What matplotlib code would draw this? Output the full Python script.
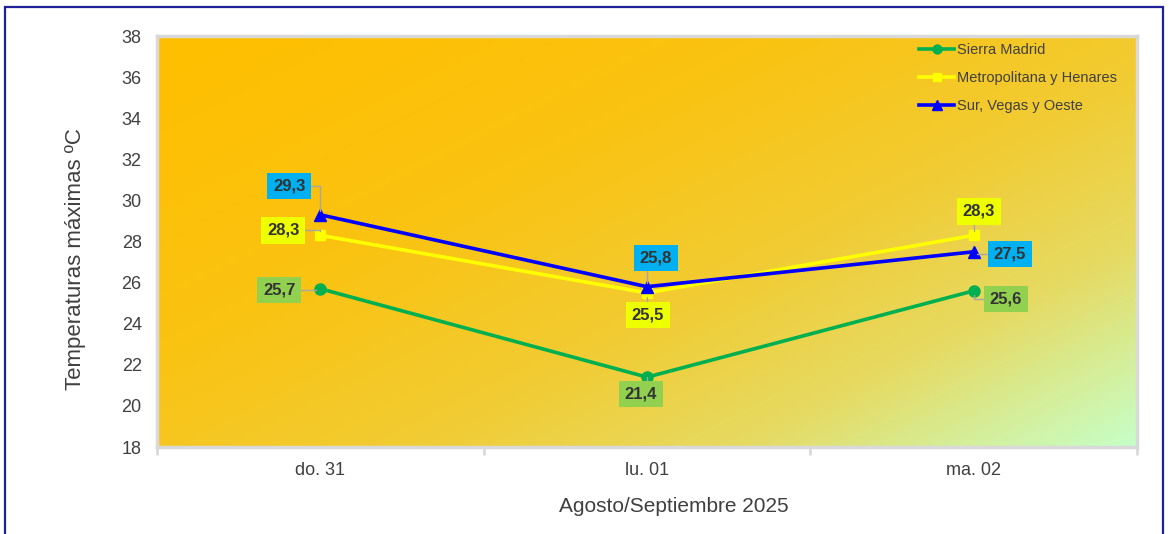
import numpy as np
import matplotlib.pyplot as plt
from matplotlib.colors import LinearSegmentedColormap
from matplotlib.patches import Rectangle

# Datos: temperaturas máximas por zona
dias = ["do. 31", "lu. 01", "ma. 02"]
sierra = [25.7, 21.4, 25.6]
metropolitana = [28.3, 25.5, 28.3]
sur = [29.3, 25.8, 27.5]

plt.rcParams["font.family"] = ["Liberation Sans", "DejaVu Sans"]
texto = "#404040"

fig = plt.figure(figsize=(11.69, 5.34), dpi=100)
ax = fig.add_axes([157 / 1169, 1 - 447 / 534, 980 / 1169, 411 / 534])

# Fondo degradado naranja -> verde claro en diagonal
cmap = LinearSegmentedColormap.from_list(
    "fondo", [(0.0, "#FFBF00"), (0.3, "#FAC312"), (0.55, "#F1CC34"),
              (0.75, "#E6DA62"), (1.0, "#C6FFC8")])
u, v = np.meshgrid(np.linspace(0, 1, 400), np.linspace(0, 1, 200))
t = np.clip((u * 0.55 + v * 0.45) ** 1.15, 0, 1)
ax.imshow(t, cmap=cmap, extent=[-0.5, 2.5, 18, 38], origin="upper",
          aspect="auto", zorder=0, vmin=0, vmax=1)

x = np.arange(len(dias))
ax.plot(x, sierra, color="#00B050", lw=2.6, marker="o", ms=8,
        label="Sierra Madrid", zorder=3)
ax.plot(x, metropolitana, color="#FFFF00", lw=2.6, marker="s", ms=7,
        label="Metropolitana y Henares", zorder=3)
ax.plot(x, sur, color="#0000FF", lw=2.6, marker="^", ms=9,
        label="Sur, Vegas y Oeste", zorder=4)

# Etiquetas de valor con caja de color y línea guía
def etiqueta(xi, val, dx, dy, fondo):
    ax.annotate(f"{val:.1f}".replace(".", ","), (xi, val),
                xytext=(dx, dy), textcoords="offset pixels",
                ha="center", va="center", fontsize=12, fontweight="bold",
                color="#333333", zorder=6,
                bbox=dict(boxstyle="square,pad=0.34", fc=fondo, ec="none"),
                arrowprops=dict(arrowstyle="-", color="#A6A6A6", lw=1,
                                shrinkA=0, shrinkB=3,
                                connectionstyle="angle,angleA=0,angleB=90,rad=0"))

off_sur = [(-31, 29), (9, 29), (36, -2)]
off_met = [(-37, 5), (1, -22), (5, 24)]
off_sie = [(-41, -1), (-6, -17), (32, -8)]
for i in range(3):
    etiqueta(i, sur[i], *off_sur[i], "#00B0F0")
    etiqueta(i, metropolitana[i], *off_met[i], "#EEFF00")
    etiqueta(i, sierra[i], *off_sie[i], "#92D050")

ax.set_xlim(-0.5, 2.5)
ax.set_ylim(18, 38)
ax.set_yticks(range(18, 39, 2))
ax.set_xticks(x)
ax.set_xticklabels(dias)
ax.set_xticks([-0.5, 0.5, 1.5, 2.5], minor=True)
ax.tick_params(axis="both", which="major", length=0, labelsize=13,
               colors=texto, pad=11)
ax.tick_params(axis="x", which="minor", length=6, width=2, color="#D9D9D9")
for s in ax.spines.values():
    s.set_color("#D9D9D9")
    s.set_linewidth(2.5)

ax.set_xlabel("Agosto/Septiembre 2025", fontsize=15, color=texto)
ax.xaxis.set_label_coords((674 - 157) / 980, -50 / 411)
ax.set_ylabel("Temperaturas máximas ºC", fontsize=16, color=texto)
ax.yaxis.set_label_coords(-(157 - 86) / 980, (447 - 259) / 411)

ax.legend(loc="upper left", bbox_to_anchor=(919 / 1169, 1 - 43 / 534),
          bbox_transform=fig.transFigure, frameon=False, fontsize=10.5,
          handlelength=2.4, handletextpad=0.2, labelspacing=0.95,
          borderpad=0, borderaxespad=0, markerscale=0.8, labelcolor=texto)

# Marco exterior azul
fig.patches.append(Rectangle((5 / 1169, -0.05), 1158 / 1169, 1.05 - 6.5 / 534,
                             transform=fig.transFigure, fill=False,
                             ec="#1F1F9A", lw=1.6))

fig.savefig("out.png", dpi=100)
